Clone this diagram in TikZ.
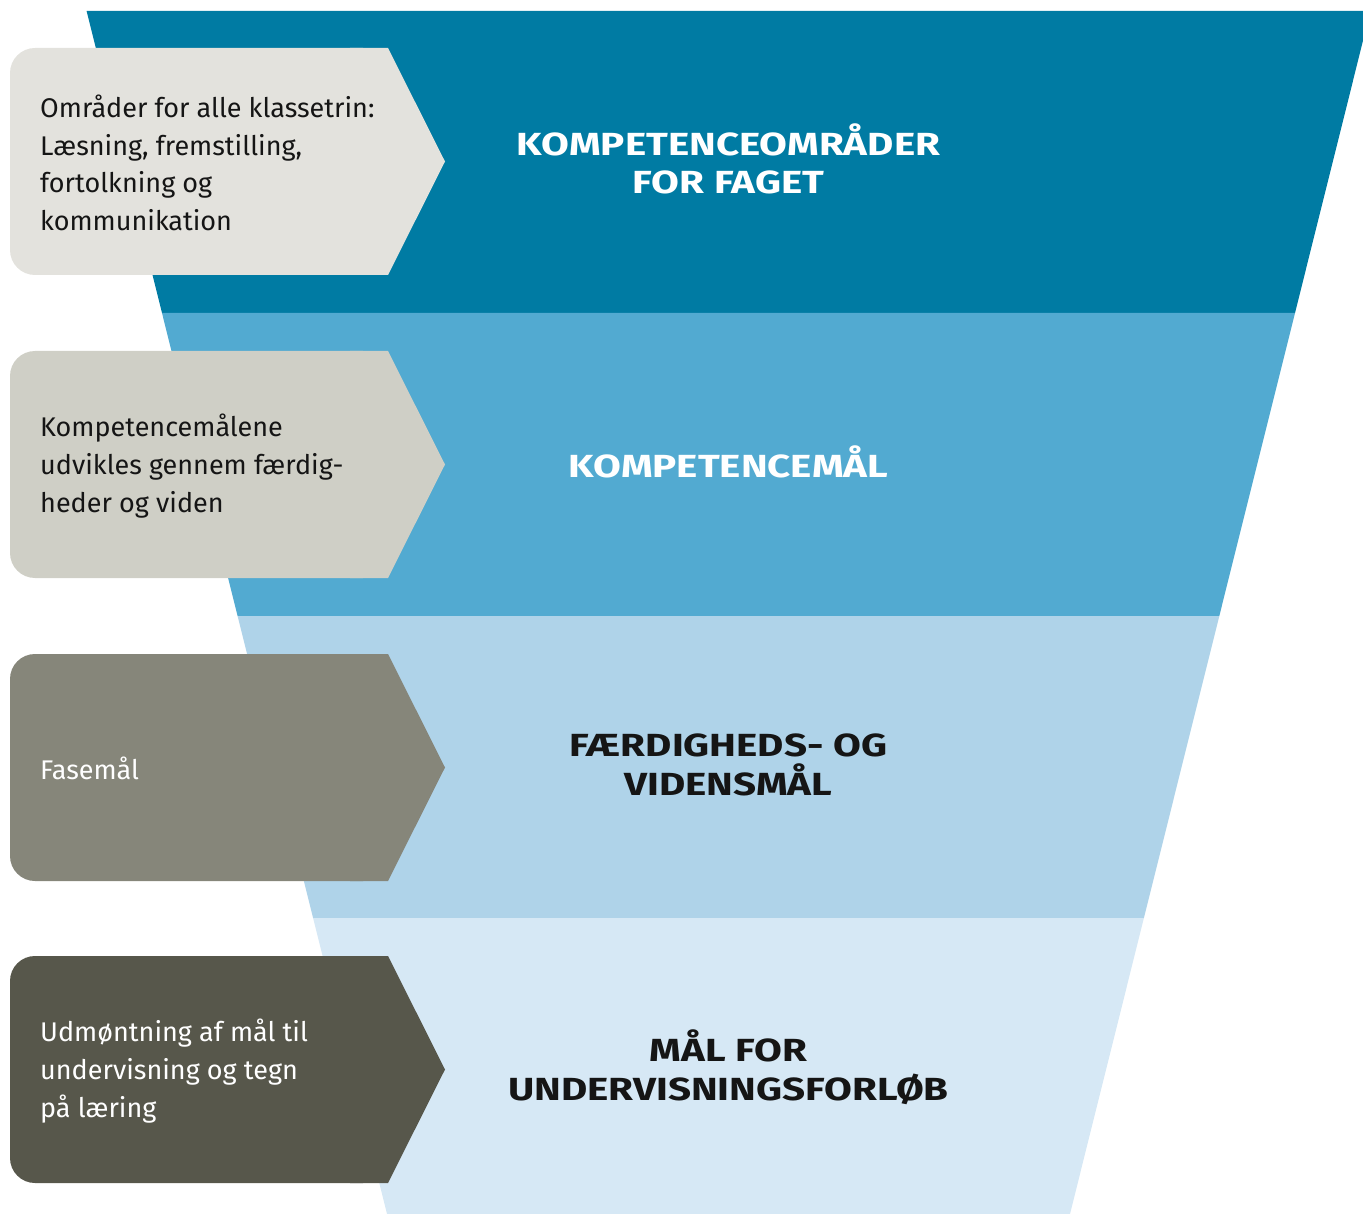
\documentclass[tikz,border=0pt]{standalone}
\usepackage{fontspec}
\setmainfont{Fira Sans}
\newfontfamily\headfont[FakeStretch=1.26]{Fira Sans}
\definecolor{bandA}{HTML}{007BA3}
\definecolor{bandB}{HTML}{52AAD1}
\definecolor{bandC}{HTML}{AFD3E9}
\definecolor{bandD}{HTML}{D6E8F5}
\definecolor{boxA}{HTML}{E3E2DD}
\definecolor{boxB}{HTML}{CFCFC6}
\definecolor{boxC}{HTML}{86867A}
\definecolor{boxD}{HTML}{57574B}
\definecolor{ink}{HTML}{151515}
\tikzset{
  boxtext/.style={anchor=west, align=left, inner sep=0pt, font=\fontsize{27}{37.7}\selectfont},
  headtext/.style={align=center, inner sep=0pt, font=\headfont\fontsize{32}{38.5}\selectfont\bfseries},
}
\begin{document}
\begin{tikzpicture}[x=1pt,y=-1pt]
\useasboundingbox (0,0) rectangle (1363,1214);
\clip (0,0) rectangle (1363,1214);
% funnel bands
\fill[bandA] (86.6,11) -- (1370.4,11) -- (1295,313) -- (162,313) -- cycle;
\fill[bandB] (162,313) -- (1295,313) -- (1219.3,616) -- (237.6,616) -- cycle;
\fill[bandC] (237.6,616) -- (1219.3,616) -- (1143.9,918) -- (313.1,918) -- cycle;
\fill[bandD] (313.1,918) -- (1143.9,918) -- (1070,1214) -- (387,1214) -- cycle;
% arrow boxes
\foreach \t/\c in {48/boxA,351/boxB,654/boxC,956/boxD}{
  \fill[\c, rounded corners=25] (10,\t) rectangle (388,\t+227);
  \fill[\c] (350,\t) -- (388,\t) -- (445,\t+113.5) -- (388,\t+227) -- (350,\t+227) -- cycle;
}
% box texts
\node[boxtext, text=ink] (t1) at (40,163) {Områder for alle klassetrin:\\Læsning, fremstilling,\\fortolkning og\\kommunikation};
\node[boxtext, text=ink] (t2) at (40,466) {Kompetencemålene\\udvikles gennem færdig-\\heder og viden};
\node[boxtext, text=white] (t3) at (40,768) {Fasemål};
\node[boxtext, text=white] (t4) at (40,1071) {Udmøntning af mål til\\undervisning og tegn\\på læring};
% headings
\node[headtext, text=white] (h1) at (728.5,159) {KOMPETENCEOMRÅDER\\FOR FAGET};
\node[headtext, text=white] (h2) at (728.5,462) {KOMPETENCEMÅL};
\node[headtext, text=ink] (h3) at (728.5,765) {FÆRDIGHEDS- OG\\VIDENSMÅL};
\node[headtext, text=ink] (h4) at (728.5,1067) {MÅL FOR\\UNDERVISNINGSFORLØB};
\end{tikzpicture}
\end{document}
